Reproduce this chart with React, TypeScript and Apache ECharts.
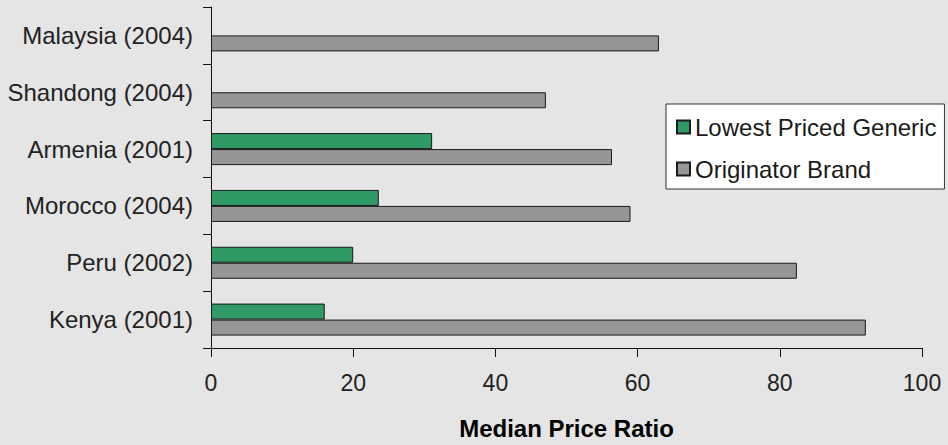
import React, { useEffect, useRef } from "react";
import * as echarts from "echarts";

const categories = [
  "Kenya (2001)",
  "Peru (2002)",
  "Morocco (2004)",
  "Armenia (2001)",
  "Shandong (2004)",
  "Malaysia (2004)",
];
const genericValues: (number | null)[] = [16, 20, 23.6, 31.1, null, null];
const brandValues = [92.1, 82.4, 59, 56.4, 47.1, 63];
const xTicks = [0, 20, 40, 60, 80, 100];
const seriesNames = ["Lowest Priced Generic", "Originator Brand"];

const FONT = "'Liberation Sans', Arial, sans-serif";

export default function App() {
  const ref = useRef<HTMLDivElement>(null);
  useEffect(() => {
    if (!ref.current) return;
    const chart = echarts.init(ref.current, null, { renderer: "svg" });
    chart.setOption({
      animation: false,
      backgroundColor: "#e5e5e5",
      textStyle: { fontFamily: FONT },
      grid: { left: 211, right: 26, top: 7, bottom: 97, containLabel: false },
      legend: {
        data: seriesNames,
        orient: "vertical",
        left: 666,
        top: 104,
        padding: [11, 8, 8, 10],
        itemGap: 18,
        itemWidth: 13,
        itemHeight: 13,
        backgroundColor: "#ffffff",
        borderColor: "#333333",
        borderWidth: 1,
        borderRadius: 0,
        icon: "rect",
        textStyle: { fontSize: 24, color: "#1a1a1a", fontFamily: FONT },
      },
      xAxis: {
        type: "value",
        min: xTicks[0],
        max: xTicks[xTicks.length - 1],
        interval: 20,
        name: "Median Price Ratio",
        nameLocation: "middle",
        nameGap: 68,
        nameTextStyle: {
          fontSize: 24,
          fontWeight: "bold",
          color: "#000",
          fontFamily: FONT,
        },
        axisLine: { show: true, lineStyle: { color: "#111", width: 1 } },
        axisTick: { show: true, length: 9, lineStyle: { color: "#111" } },
        axisLabel: { fontSize: 23, color: "#222", margin: 23, fontFamily: FONT },
        splitLine: { show: false },
      },
      yAxis: {
        type: "category",
        data: categories,
        axisLine: { show: true, lineStyle: { color: "#111", width: 1 } },
        axisTick: { show: true, length: 8, lineStyle: { color: "#111" } },
        axisLabel: { fontSize: 24, color: "#222", margin: 18, fontFamily: FONT },
        splitLine: { show: false },
      },
      series: [
        {
          name: seriesNames[0],
          type: "bar",
          data: genericValues,
          barWidth: 16,
          barGap: "0%",
          itemStyle: { color: "#2f9a66", borderColor: "#1a1a1a", borderWidth: 1 },
        },
        {
          name: seriesNames[1],
          type: "bar",
          data: brandValues,
          barWidth: 16,
          barGap: "0%",
          itemStyle: { color: "#969696", borderColor: "#1a1a1a", borderWidth: 1 },
        },
      ],
    });
    return () => chart.dispose();
  }, []);
  return (
    <div
      ref={ref}
      style={{ position: "absolute", left: 0, top: 0, width: 948, height: 445 }}
    />
  );
}
